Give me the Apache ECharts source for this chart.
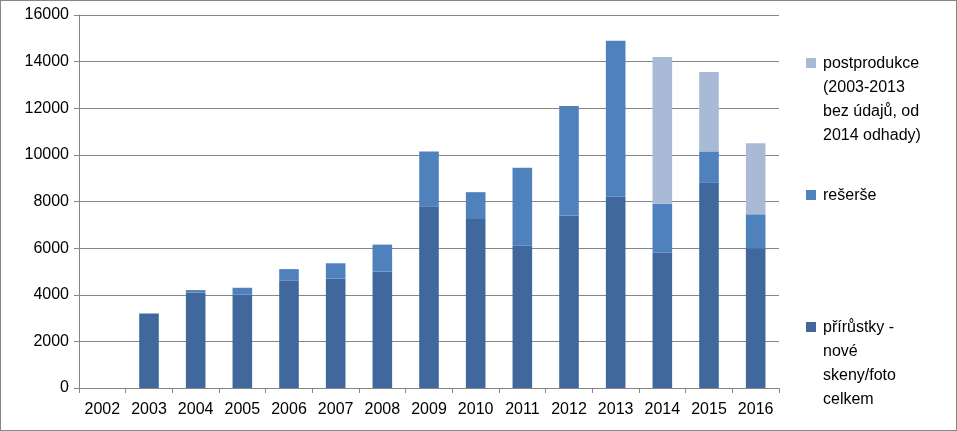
<!DOCTYPE html>
<html><head><meta charset="utf-8">
<script src="https://cdn.jsdelivr.net/npm/echarts@6/dist/echarts.min.js"></script>
<style>html,body{margin:0;padding:0;background:#fff}#c{width:957px;height:431px;box-sizing:border-box;border:1px solid #868686}</style>
</head><body><div id="c"></div>
<script>
const years = ['2002','2003','2004','2005','2006','2007','2008','2009','2010','2011','2012','2013','2014','2015','2016'];
const prirustky = [0,3200,4100,4000,4600,4700,5000,7800,7250,6100,7400,8200,5800,8800,6000];
const reserse = [0,0,100,300,500,650,1150,2350,1150,3350,4700,6700,2100,1350,1450];
const postprodukce = [0,0,0,0,0,0,0,0,0,0,0,0,6300,3400,3050];
const yTicks = [0,2000,4000,6000,8000,10000,12000,14000,16000];
const legendLabels = [
  {name:'postprodukce', text:'postprodukce\n(2003-2013\nbez údajů, od\n2014 odhady)', color:'#A9BAD6', y:54},
  {name:'rešerše', text:'rešerše', color:'#4F81BD', y:186},
  {name:'přírůstky', text:'přírůstky -\nnové\nskeny/foto\ncelkem', color:'#41689C', y:318}
];
const font = 'Liberation Sans, Arial, sans-serif';
const chart = echarts.init(document.getElementById('c'));
const graphic = [];
legendLabels.forEach(l=>{
  graphic.push({type:'rect', left:805, top:l.y+3, shape:{width:10,height:10}, style:{fill:l.color}});
  graphic.push({type:'text', left:822, top:l.y-3, style:{text:l.text, font:'16px '+font, fill:'#000', lineHeight:24}});
});
const mk = (name,data,color)=>({name,type:'bar',stack:'s',data,barWidth:'42%',itemStyle:{color}});
chart.setOption({
  animation:false,
  grid:{left:78,right:177,top:14,bottom:42},
  graphic,
  xAxis:{type:'category',data:years,
    axisLine:{lineStyle:{color:'#868686'}},
    axisTick:{show:true,lineStyle:{color:'#868686'},length:5},
    axisLabel:{color:'#000',fontSize:16,fontFamily:font,margin:14}},
  yAxis:{type:'value',min:yTicks[0],max:yTicks[yTicks.length-1],interval:2000,
    axisLine:{show:true,lineStyle:{color:'#868686'}},
    axisTick:{show:true,lineStyle:{color:'#868686'},length:5,inside:false},
    splitLine:{lineStyle:{color:'#868686'}},
    axisLabel:{color:'#000',fontSize:16,fontFamily:font,margin:10,formatter:v=>String(v)}},
  series:[
    mk('přírůstky',prirustky,'#41689C'),
    mk('rešerše',reserse,'#4F81BD'),
    mk('postprodukce',postprodukce,'#A9BAD6')
  ]
});
</script></body></html>
